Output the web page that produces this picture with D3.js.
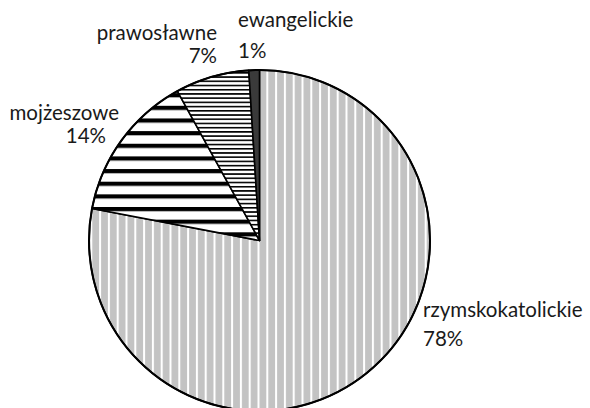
<!DOCTYPE html>
<html>
<head>
<meta charset="utf-8">
<script src="https://cdn.jsdelivr.net/npm/d3@7/dist/d3.min.js"></script>
<style>
  html, body { margin: 0; padding: 0; background: #fff; }
  svg { display: block; }
  text { font-family: "Lato", "Open Sans", sans-serif; fill: #1a1a1a; }
</style>
</head>
<body>
<svg id="chart" width="590" height="408"></svg>
<script>
// Religious denominations, share in percent
const categories = ["rzymskokatolickie", "mojżeszowe", "prawosławne", "ewangelickie"];
const values = [78, 14, 7, 1];

// Label placement (name line / percent line), anchor side
const labelLayout = {
  "rzymskokatolickie": { x: 423, y: 317, dy: 29, anchor: "start" },
  "mojżeszowe":        { x: 119, y: 120, dy: 23, anchor: "end", px: 106 },
  "prawosławne":       { x: 217, y: 40,  dy: 23, anchor: "end" },
  "ewangelickie":      { x: 238, y: 27,  dy: 31, anchor: "start" }
};

const width = 590, height = 408;
const cx = 259.5, cy = 240.5, radius = 170.5;
const fontSize = 20.5;

const svg = d3.select("#chart");
const defs = svg.append("defs");

// light grey with white vertical rules
const pGrey = defs.append("pattern")
  .attr("id", "pat-vert").attr("patternUnits", "userSpaceOnUse")
  .attr("x", 262).attr("y", 0).attr("width", 8.8).attr("height", 20);
pGrey.append("rect").attr("width", 8.8).attr("height", 20).attr("fill", "#c3c3c3");
pGrey.append("rect").attr("x", 0).attr("width", 2).attr("height", 20).attr("fill", "#ffffff");

// wide black horizontal bands
const pWide = defs.append("pattern")
  .attr("id", "pat-wide").attr("patternUnits", "userSpaceOnUse")
  .attr("x", 0).attr("y", 93).attr("width", 20).attr("height", 12.65);
pWide.append("rect").attr("width", 20).attr("height", 12.65).attr("fill", "#ffffff");
pWide.append("rect").attr("y", 0).attr("width", 20).attr("height", 4.2).attr("fill", "#000000");

// narrow black horizontal lines
const pNarrow = defs.append("pattern")
  .attr("id", "pat-narrow").attr("patternUnits", "userSpaceOnUse")
  .attr("x", 0).attr("y", 93).attr("width", 20).attr("height", 4.217);
pNarrow.append("rect").attr("width", 20).attr("height", 4.217).attr("fill", "#ffffff");
pNarrow.append("rect").attr("y", 0).attr("width", 20).attr("height", 1.6).attr("fill", "#000000");

const fills = d3.scaleOrdinal()
  .domain(categories)
  .range(["url(#pat-vert)", "url(#pat-wide)", "url(#pat-narrow)", "#3a3a3a"]);

const pie = d3.pie().sort(null).value(d => d.value);
const arcs = pie(categories.map((c, i) => ({ name: c, value: values[i] })));
const arc = d3.arc().innerRadius(0).outerRadius(radius);

const g = svg.append("g").attr("transform", `translate(${cx},${cy})`);

g.selectAll("path.slice")
  .data(arcs)
  .join("path")
  .attr("class", "slice")
  .attr("d", arc)
  .attr("fill", d => fills(d.data.name))
  .attr("stroke", "#000")
  .attr("stroke-width", 1.6)
  .attr("stroke-linejoin", "round");

// outer rim
g.append("circle").attr("r", radius).attr("fill", "none")
  .attr("stroke", "#000").attr("stroke-width", 2);

const total = d3.sum(values);
const fmt = d3.format(".0%");

const labels = svg.append("g").attr("class", "labels");
arcs.forEach(d => {
  const L = labelLayout[d.data.name];
  const t = labels.append("g");
  t.append("text")
    .attr("x", L.x).attr("y", L.y)
    .attr("text-anchor", L.anchor)
    .attr("font-size", fontSize)
    .text(d.data.name);
  t.append("text")
    .attr("x", L.px !== undefined ? L.px : L.x).attr("y", L.y + L.dy)
    .attr("text-anchor", L.anchor)
    .attr("font-size", fontSize)
    .text(fmt(d.data.value / total));
});
</script>
</body>
</html>
